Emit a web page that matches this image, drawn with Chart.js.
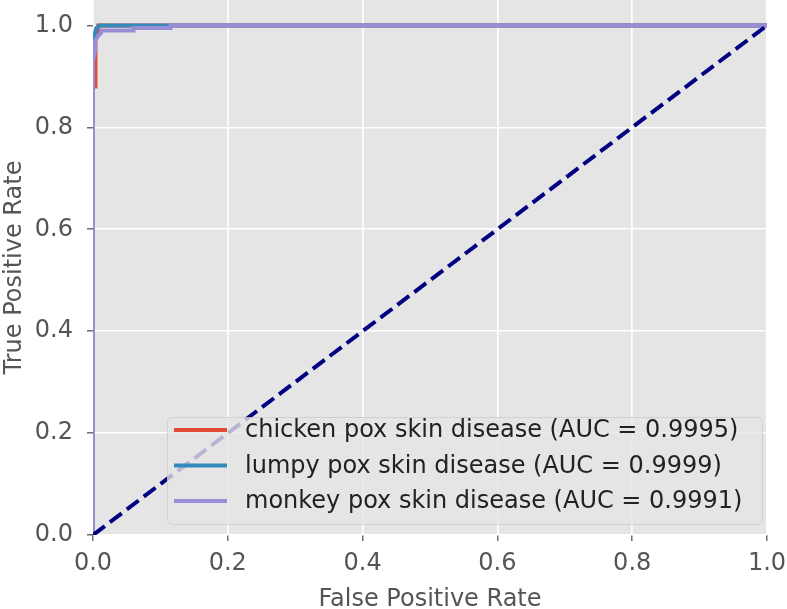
<!DOCTYPE html>
<html>
<head>
<meta charset="utf-8">
<script src="https://cdn.jsdelivr.net/npm/chart.js@4.4.1/dist/chart.umd.min.js"></script>
<style>
  html, body { margin: 0; padding: 0; background: #ffffff; }
  #wrap { width: 787px; height: 609px; position: relative; }
</style>
</head>
<body>
<div id="wrap"><canvas id="c" width="787" height="609"></canvas></div>
<script>
// ---- data ----
const xTicks = [0.0, 0.2, 0.4, 0.6, 0.8, 1.0];
const yTicks = [0.0, 0.2, 0.4, 0.6, 0.8, 1.0];
const seriesNames = [
  'chicken pox skin disease (AUC = 0.9995)',
  'lumpy pox skin disease (AUC = 0.9999)',
  'monkey pox skin disease (AUC = 0.9991)'
];
const chickenFpr = [0, 0, 0.003, 0.003, 0.004, 0.004, 0.008, 0.008, 1];
const chickenTpr = [0, 0.88, 0.88, 0.95, 0.95, 0.97, 0.985, 1, 1];
const lumpyFpr = [0, 0, 0.003, 0.005, 0.01, 1];
const lumpyTpr = [0, 0.975, 0.985, 0.995, 1, 1];
const monkeyFpr = [0, 0, 0.003, 0.003, 0.008, 0.012, 0.012, 0.06, 0.06, 0.115, 0.115, 1];
const monkeyTpr = [0, 0.93, 0.95, 0.97, 0.98, 0.985, 0.99, 0.99, 0.995, 0.995, 1, 1];
const chanceX = [0, 1];
const chanceY = [0, 1];

const colors = ['#E24A33', '#348ABD', '#988ED5'];

function pts(xs, ys) { return xs.map((x, i) => ({ x: x, y: ys[i] })); }

const bgPlugin = {
  id: 'bg',
  beforeDraw(chart) {
    const { ctx, chartArea: a } = chart;
    ctx.save();
    ctx.fillStyle = '#ffffff';
    ctx.fillRect(0, 0, chart.width, chart.height);
    ctx.fillStyle = '#E5E5E5';
    ctx.fillRect(a.left, a.top, a.right - a.left, a.bottom - a.top);
    ctx.restore();
  }
};

const legendPlugin = {
  id: 'innerLegend',
  afterDatasetsDraw(chart) {
    const ctx = chart.ctx;
    const box = { l: 167, t: 417, r: 762, b: 524 };
    ctx.save();
    ctx.globalAlpha = 0.8;
    ctx.beginPath();
    ctx.roundRect(box.l + 0.5, box.t + 0.5, box.r - box.l, box.b - box.t, 5);
    ctx.fillStyle = '#E5E5E5';
    ctx.fill();
    ctx.strokeStyle = '#CCCCCC';
    ctx.lineWidth = 1;
    ctx.stroke();
    ctx.globalAlpha = 1;
    const rows = [430, 465.5, 501];
    ctx.font = '24px "DejaVu Sans"';
    ctx.textBaseline = 'middle';
    ctx.textAlign = 'left';
    seriesNames.forEach((name, i) => {
      ctx.strokeStyle = colors[i];
      ctx.lineWidth = 4;
      ctx.beginPath();
      ctx.moveTo(174, rows[i]);
      ctx.lineTo(227, rows[i]);
      ctx.stroke();
      ctx.fillStyle = '#222222';
      ctx.fillText(name, 245, rows[i] + 1);
    });
    ctx.restore();
  }
};

const common = { showLine: true, pointRadius: 0, pointHoverRadius: 0, tension: 0, fill: false, clip: 0, borderJoinStyle: 'miter' };

new Chart(document.getElementById('c'), {
  type: 'scatter',
  data: {
    datasets: [
      Object.assign({ label: 'chance', data: pts(chanceX, chanceY), borderColor: '#000080', borderWidth: 4, borderDash: [14.8, 6.4], order: 0 }, common),
      Object.assign({ label: seriesNames[2], data: pts(monkeyFpr, monkeyTpr), borderColor: colors[2], borderWidth: 4, order: 1 }, common),
      Object.assign({ label: seriesNames[1], data: pts(lumpyFpr, lumpyTpr), borderColor: colors[1], borderWidth: 4, order: 2 }, common),
      Object.assign({ label: seriesNames[0], data: pts(chickenFpr, chickenTpr), borderColor: colors[0], borderWidth: 4, order: 3 }, common)
    ]
  },
  options: {
    responsive: false,
    animation: false,
    devicePixelRatio: 1,
    layout: { padding: { left: 0, right: 20, top: 0, bottom: 0 } },
    plugins: { legend: { display: false }, tooltip: { enabled: false } },
    scales: {
      x: {
        type: 'linear', min: 0, max: 1,
        afterBuildTicks(s) { s.ticks = xTicks.map(v => ({ value: v })); },
        afterFit(s) { s.height = 74; s.paddingLeft = 0; s.paddingRight = 0; },
        ticks: { callback: v => v.toFixed(1), color: '#555555', font: { family: 'DejaVu Sans', size: 24 }, padding: 8, maxRotation: 0 },
        grid: { color: '#FFFFFF', lineWidth: 1.6, drawTicks: true, tickLength: 6, tickColor: '#555555', tickWidth: 1.3 },
        border: { display: false },
        title: { display: true, text: 'False Positive Rate', color: '#555555', font: { family: 'DejaVu Sans', size: 24, lineHeight: 0.75 }, padding: { top: 0, bottom: 0 } }
      },
      y: {
        type: 'linear', min: 0, max: 1.05,
        afterBuildTicks(s) { s.ticks = yTicks.map(v => ({ value: v })); },
        afterFit(s) { s.width = 93; s.paddingTop = 0; s.paddingBottom = 0; },
        ticks: { callback: v => v.toFixed(1), color: '#555555', font: { family: 'DejaVu Sans', size: 24 }, padding: 14 },
        grid: { color: '#FFFFFF', lineWidth: 1.6, drawTicks: true, tickLength: 6, tickColor: '#555555', tickWidth: 1.3 },
        border: { display: false },
        title: { display: true, text: 'True Positive Rate', color: '#555555', font: { family: 'DejaVu Sans', size: 24, lineHeight: 1 }, padding: { top: 3, bottom: 0 } }
      }
    }
  },
  plugins: [bgPlugin, legendPlugin]
});
</script>
</body>
</html>
